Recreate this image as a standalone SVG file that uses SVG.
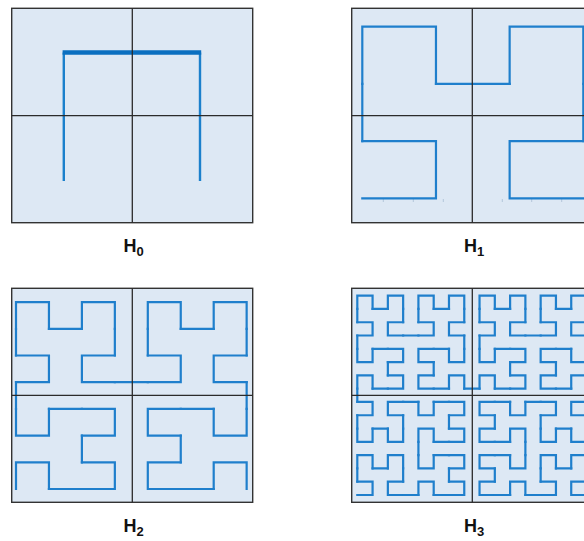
<svg xmlns="http://www.w3.org/2000/svg" width="584" height="541" viewBox="0 0 584 541">
<style>
.panel { fill:#dde8f4; stroke:#333333; stroke-width:1.4; }
.div { stroke:#2b2b2b; stroke-width:1.3; fill:none; }
.crv { fill:none; stroke:#1f7fcc; stroke-width:2.2; stroke-linecap:square; stroke-linejoin:miter; }
.lbl { font-family:"Liberation Sans", Arial, sans-serif; font-weight:bold; font-size:18px; fill:#111111; }
.sub { font-size:13px; }
.tick { stroke:#b3c6da; stroke-width:1; }
</style>
<defs>
  <path id="c0" d="M0,0 L0,1 L1,1 L1,0" vector-effect="non-scaling-stroke"/>
  <g id="c1">
    <use href="#c0" transform="matrix(0,1,1,0,0,0)"/>
    <use href="#c0" transform="translate(0,2)"/>
    <use href="#c0" transform="translate(2,2)"/>
    <use href="#c0" transform="matrix(0,-1,-1,0,3,1)"/>
    <path d="M0,1 L0,2 M1,2 L2,2 M3,2 L3,1" vector-effect="non-scaling-stroke"/>
  </g>
  <g id="c2">
    <use href="#c1" transform="matrix(0,1,1,0,0,0)"/>
    <use href="#c1" transform="translate(0,4)"/>
    <use href="#c1" transform="translate(4,4)"/>
    <use href="#c1" transform="matrix(0,-1,-1,0,7,3)"/>
    <path d="M0,3 L0,4 M3,4 L4,4 M7,4 L7,3" vector-effect="non-scaling-stroke"/>
  </g>
  <g id="c3">
    <use href="#c2" transform="matrix(0,1,1,0,0,0)"/>
    <use href="#c2" transform="translate(0,8)"/>
    <use href="#c2" transform="translate(8,8)"/>
    <use href="#c2" transform="matrix(0,-1,-1,0,15,7)"/>
    <path d="M0,7 L0,8 M7,8 L8,8 M15,8 L15,7" vector-effect="non-scaling-stroke"/>
  </g>
</defs>
<rect width="584" height="541" fill="#ffffff"/>

<g id="panel-h0">
  <rect class="panel" x="11.7" y="8.3" width="241" height="214.4"/>
  <path d="M63.8,181 V52.5 M200,52.5 V181" fill="none" stroke="#1b80cc" stroke-width="2.4"/>
  <path d="M62.6,52.5 H201.2" fill="none" stroke="#0a6fc0" stroke-width="4.6"/>
  <path class="div" d="M132.3,8.3 V222.7 M11.7,115.7 H252.7"/>
  <text class="lbl" x="133.5" y="252" text-anchor="middle">H<tspan class="sub" dy="4">0</tspan></text>
</g>

<g id="panel-h1">
  <rect class="panel" x="351.7" y="8.3" width="241" height="214.4"/>
  <path class="tick" d="M383.3,199 v3 M413.3,199 v3 M443.3,199 v3 M502.3,199 v3 M531.7,199 v3 M561.7,199 v3"/>
  <g class="crv" transform="translate(362.3,198.3) scale(73.67,-57.2)">
    <use href="#c1"/>
  </g>
  <path class="div" d="M472.3,8.3 V222.7 M351.7,115.7 H592.7"/>
  <text class="lbl" x="474" y="252" text-anchor="middle">H<tspan class="sub" dy="4">1</tspan></text>
</g>

<g id="panel-h2">
  <rect class="panel" x="11.7" y="288.3" width="241" height="214"/>
  <g class="crv" transform="translate(16,489) scale(32.95,-26.7)">
    <use href="#c2"/>
  </g>
  <path class="div" d="M132.3,288.3 V502.3 M11.7,395.3 H252.7"/>
  <text class="lbl" x="133.5" y="532" text-anchor="middle">H<tspan class="sub" dy="4">2</tspan></text>
</g>

<g id="panel-h3">
  <rect class="panel" x="351.7" y="288.3" width="241" height="214"/>
  <g class="crv" transform="translate(357.3,495) scale(15.28,-13.29)">
    <use href="#c3"/>
  </g>
  <path class="div" d="M472.3,288.3 V502.3 M351.7,395.3 H592.7"/>
  <text class="lbl" x="474" y="532" text-anchor="middle">H<tspan class="sub" dy="4">3</tspan></text>
</g>
</svg>
